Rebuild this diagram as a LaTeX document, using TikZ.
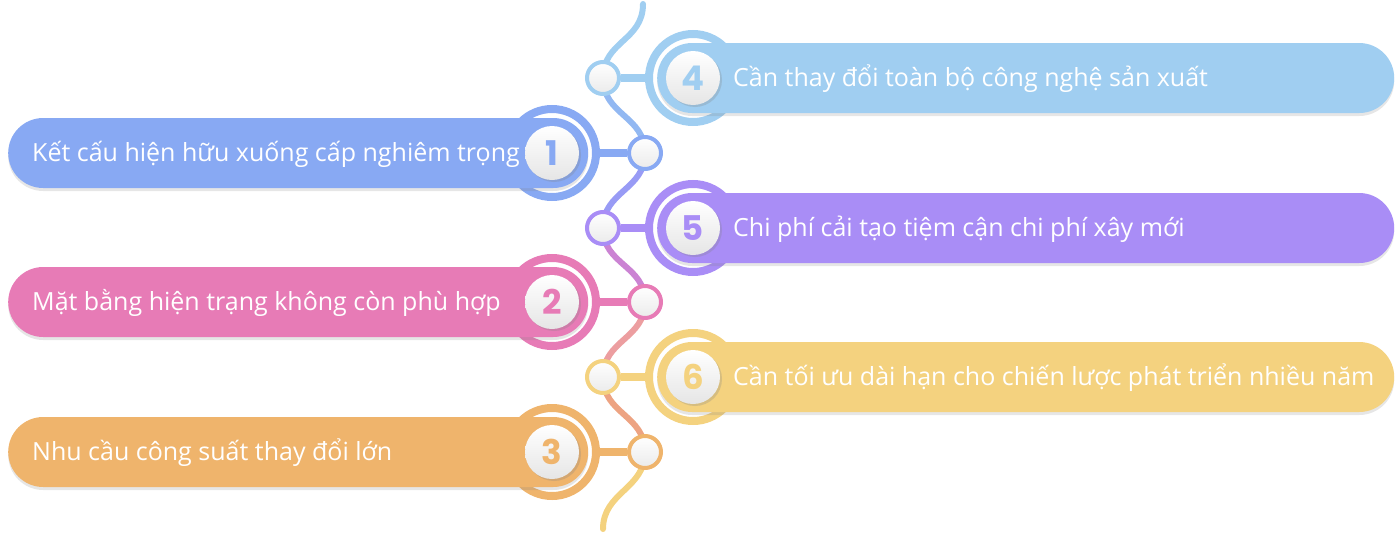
\documentclass[tikz,border=0pt]{standalone}
\usepackage{fontspec}
\setmainfont{Open Sans}
\newfontfamily\numfont{Poppins}
\usetikzlibrary{shadows}

\definecolor{c1}{HTML}{88A9F3}
\definecolor{c2}{HTML}{E77BB6}
\definecolor{c3}{HTML}{EFB46C}
\definecolor{c4}{HTML}{A0CEF1}
\definecolor{c5}{HTML}{A98DF6}
\definecolor{c6}{HTML}{F4D27F}

\tikzset{
  bar/.style={rounded corners=35pt, minimum height=70pt, inner sep=0pt,
    drop shadow={shadow xshift=0pt, shadow yshift=-3pt, opacity=.2}},
  ring/.style={circle, line width=8pt, fill=white, minimum size=88pt, inner sep=0pt},
  num/.style={circle, minimum size=54pt, inner sep=0pt, top color=white, bottom color=black!10,
    drop shadow={shadow xshift=2pt, shadow yshift=-2pt, opacity=.25},
    font=\numfont\bfseries\fontsize{34}{34}\selectfont},
  dot/.style={circle, line width=4pt, minimum size=32pt, inner sep=0pt, top color=white, bottom color=black!8},
  txt/.style={anchor=base west, inner sep=0pt, text=white, font=\fontsize{25}{25}\selectfont},
  link/.style={line width=8pt},
  spine/.style={line width=6pt, line cap=round},
}

\begin{document}
\begin{tikzpicture}[x=1pt, y=-1pt]
	\useasboundingbox (0,0) rectangle (1400,533);

	% points on the spine
	\coordinate (top) at (643,4);
	\coordinate (p4) at (603,78);
	\coordinate (p1) at (645,153);
	\coordinate (p5) at (603,228);
	\coordinate (p2) at (645,302);
	\coordinate (p6) at (603,377);
	\coordinate (p3) at (645,452);
	\coordinate (bot) at (603,529);

	\draw[spine, c4] (top) .. controls +(0,37) and +(0,-37) .. (p4);
	\draw[spine, c4!40!c1] (p4) .. controls +(0,37) and +(0,-37) .. (p1);
	\draw[spine, c1!50!c5] (p1) .. controls +(0,37) and +(0,-37) .. (p5);
	\draw[spine, c5!45!c2] (p5) .. controls +(0,37) and +(0,-37) .. (p2);
	\draw[spine, c2!60!c6] (p2) .. controls +(0,37) and +(0,-37) .. (p6);
	\draw[spine, c3!70!c2] (p6) .. controls +(0,37) and +(0,-37) .. (p3);
	\draw[spine, c6] (p3) .. controls +(0,37) and +(0,-37) .. (bot);

	% left side
	\foreach \i/\y/\col/\txt in {1/153/c1/Kết cấu hiện hữu xuống cấp nghiêm trọng,
		2/302/c2/Mặt bằng hiện trạng không còn phù hợp,
		3/452/c3/Nhu cầu công suất thay đổi lớn}
	{
		\node[ring, draw=\col] (r\i) at (552,\y) {};
		\node[bar, fill=\col, minimum width=580pt, anchor=west] (b\i) at (8,\y) {};
		\node[txt] (t\i) at ([xshift=24pt, yshift=-8pt]b\i.west) {\txt};
		\node[num, text=\col] (n\i) at (552,\y) {\i};
		\node[dot, draw=\col] (d\i) at (p\i) {};
		\draw[link, \col] (r\i) -- (d\i);
	}

	% right side
	\foreach \i/\y/\col/\txt in {4/78/c4/Cần thay đổi toàn bộ công nghệ sản xuất,
		5/228/c5/Chi phí cải tạo tiệm cận chi phí xây mới,
		6/377/c6/Cần tối ưu dài hạn cho chiến lược phát triển nhiều năm}
	{
		\node[ring, draw=\col] (r\i) at (693,\y) {};
		\node[bar, fill=\col, minimum width=737pt, anchor=west] (b\i) at (657,\y) {};
		\node[txt] (t\i) at ([xshift=76pt, yshift=-8pt]b\i.west) {\txt};
		\node[num, text=\col] (n\i) at (693,\y) {\i};
		\node[dot, draw=\col] (d\i) at (p\i) {};
		\draw[link, \col] (r\i) -- (d\i);
	}
\end{tikzpicture}
\end{document}
